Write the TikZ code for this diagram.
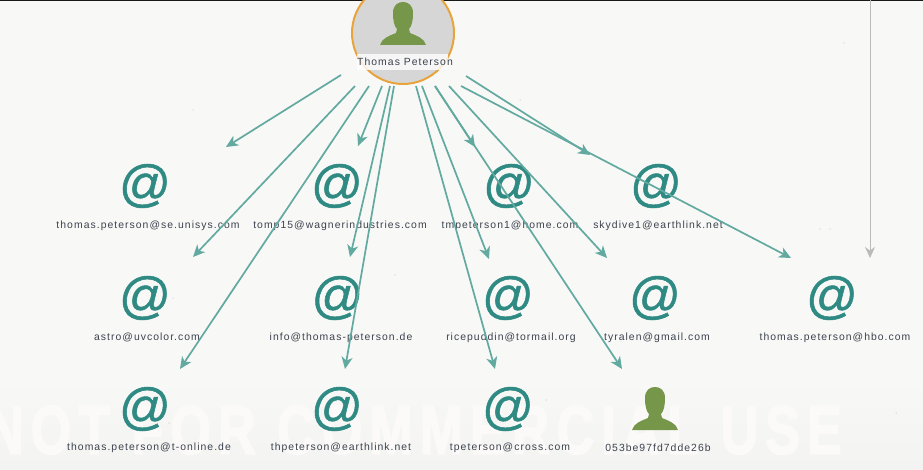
\documentclass[tikz,border=0pt]{standalone}
\usepackage{fontspec}
\setmainfont{Liberation Sans}
\newfontfamily\labelfont[LetterSpace=10]{Liberation Sans}
\newfontfamily\wmfont[FakeBold=2.6,LetterSpace=13.4]{Liberation Sans Bold}
\newfontfamily\atfont[FakeBold=1,FakeSlant=0.03]{Liberation Sans}
\usetikzlibrary{arrows.meta}
\definecolor{paper}{HTML}{F8F8F6}
\definecolor{paperlow}{HTML}{F3F3F1}
\definecolor{teal1}{HTML}{62A9A0}
\definecolor{atcol}{HTML}{2F8A83}
\definecolor{txt}{HTML}{3C424E}
\definecolor{pers}{HTML}{76964A}
\definecolor{ring}{HTML}{E8A33D}
\definecolor{disc}{HTML}{D6D6D6}
\definecolor{wm}{HTML}{FBFAF9}
\definecolor{grayline}{HTML}{BBBBBB}
\tikzset{
  atnode/.style={inner sep=0pt,text=atcol,font=\atfont\fontsize{51}{51}\selectfont},
  lab/.style={inner sep=0pt,text=txt,font=\labelfont\fontsize{10.4}{12}\selectfont,anchor=center},
  edge/.style={draw=teal1,line width=1.7pt,-{Stealth[length=12pt,width=11pt,inset=3.5pt]}},
  greyedge/.style={draw=grayline,line width=1pt,-{Stealth[length=11pt,width=10pt,inset=3.5pt]}},
  personicon/.pic={
    \fill[pers] (-23,43) .. controls (-21,36) and (-14,34) .. (-7,31)
      -- (-6,27) .. controls (-9,24) and (-10,18) .. (-10,11)
      .. controls (-10,3) and (-5,0) .. (0,0)
      .. controls (5,0) and (10,3) .. (10,11)
      .. controls (10,18) and (9,24) .. (6,27)
      -- (7,31) .. controls (14,34) and (21,36) .. (23,43) -- cycle;
  }
}
\begin{document}
\begin{tikzpicture}[x=1pt,y=-1pt]
\useasboundingbox (0,0) rectangle (923,470);
\fill[paper] (0,0) rectangle (923,470);
\fill[bottom color=paperlow,top color=paper] (0,380) rectangle (923,470);
\foreach \px/\py in {193/110,820/229,830/229,844/43,173/298,169/423,546/400,563/425,896/413,520/100,395/275}
  \fill[gray!70] (\px,\py) circle (.5pt);
\node[inner sep=0pt,anchor=center,xscale=.76,text=wm,font=\wmfont\fontsize{68.6}{70}\selectfont] (mark) at (414,430) {NOT FOR COMMERCIAL USE};
\fill[black!90] (0,0) rectangle (923,1);
% main person
\node[circle,draw=ring,line width=2pt,fill=disc,minimum size=102pt,inner sep=0pt] (main) at (403,33) {};
\pic at (403,2) {personicon};
\node[fill=white,fill opacity=.8,minimum width=91pt,minimum height=16pt,inner sep=0pt] (band) at (402.5,62) {};
\node[lab] (mainlabel) at (405,62) {Thomas Peterson};
% e-mail icons
\foreach \n/\x/\y in {a/144.5/186,b/336.5/186,c/508.5/186,d/655.5/186,e/144.5/298,f/337/298,g/507.5/298,h/654.5/298,i/831.5/298,j/144.5/409,k/336.5/409,l/507.5/409}
  \node[atnode] (at\n) at (\x,\y) {@};
\pic at (655,387) {personicon};
% labels
\node[lab] (la) at (148,225.5) {thomas.peterson@se.unisys.com};
\node[lab] (lb) at (340,225.5) {tomp15@wagnerindustries.com};
\node[lab] (lc) at (510,225.5) {tmpeterson1@home.com};
\node[lab] (ld) at (658,225.5) {skydive1@earthlink.net};
\node[lab] (le) at (147,337.5) {astro@uvcolor.com};
\node[lab] (lf) at (341,337.5) {info@thomas-peterson.de};
\node[lab] (lg) at (511,337.5) {ricepuddin@tormail.org};
\node[lab] (lh) at (657,337.5) {tyralen@gmail.com};
\node[lab] (li) at (835,337.5) {thomas.peterson@hbo.com};
\node[lab] (lj) at (149,447.5) {thomas.peterson@t-online.de};
\node[lab] (lk) at (341,447.5) {thpeterson@earthlink.net};
\node[lab] (ll) at (510,447.5) {tpeterson@cross.com};
\node[lab] (lm) at (658,447.5) {053be97fd7dde26b};
% connector ends
\foreach \n/\x/\y in {1/341/75,2/355/86,3/369/86,4/382/86,5/390/86,6/394/86,7/416/86,8/422/86,9/435/86,10/435/86,11/449/86,12/466/76,13/461/86}
  \coordinate (s\n) at (\x,\y);
\foreach \n/\x/\y in {1/226/147,2/193/257,3/180/369,4/358/146,5/350/257,6/345/369,7/495/369,8/489/259,9/475/147,10/622/369,11/607/258,12/590/155,13/791/258}
  \coordinate (t\n) at (\x,\y);
\foreach \n in {1,...,13}
  \draw[edge] (s\n) -- (t\n);
\coordinate (gs) at (870,0);
\coordinate (ge) at (870,258);
\draw[greyedge] (gs) -- (ge);
\end{tikzpicture}
\end{document}
